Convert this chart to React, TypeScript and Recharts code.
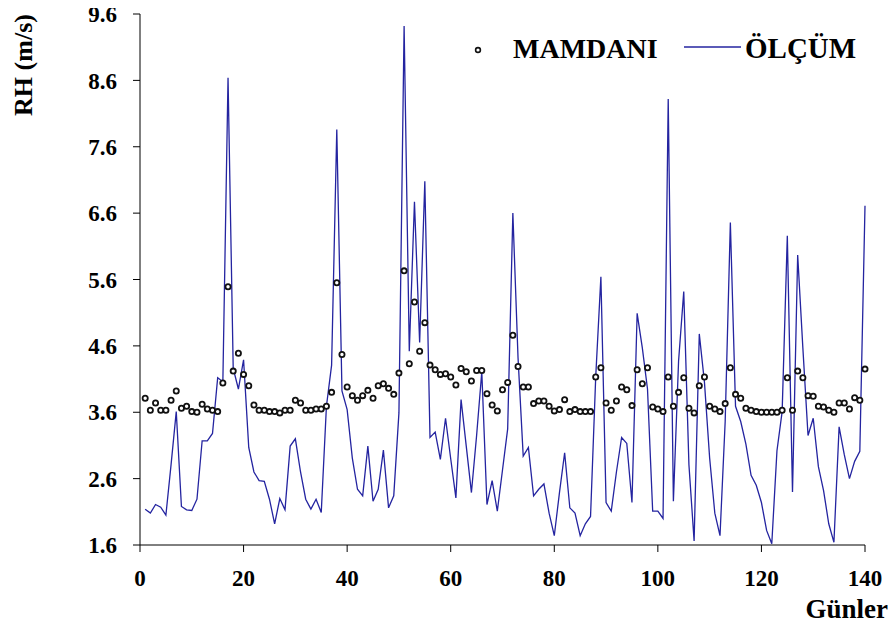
import { ComposedChart, Line, XAxis, YAxis, Legend } from "recharts";

// daily values, day 1 .. 140
const mamdani = [
  3.81, 3.63, 3.74, 3.63, 3.63, 3.78, 3.92, 3.66, 3.69, 3.61, 3.6, 3.72, 3.65, 3.63, 3.61, 4.04, 5.49, 4.22, 4.49, 4.17,
  4.0, 3.71, 3.63, 3.63, 3.61, 3.61, 3.59, 3.63, 3.63, 3.78, 3.74, 3.63, 3.63, 3.65, 3.65, 3.69, 3.9, 5.55, 4.47, 3.98,
  3.85, 3.78, 3.85, 3.93, 3.81, 4.0, 4.03, 3.96, 3.87, 4.19, 5.73, 4.33, 5.26, 4.52, 4.95, 4.31, 4.24, 4.17, 4.18, 4.13,
  4.01, 4.26, 4.21, 4.07, 4.23, 4.23, 3.88, 3.71, 3.62, 3.94, 4.05, 4.76, 4.29, 3.98, 3.98, 3.73, 3.77, 3.77, 3.69, 3.62,
  3.64, 3.79, 3.61, 3.64, 3.61, 3.61, 3.61, 4.13, 4.27, 3.74, 3.63, 3.77, 3.98, 3.94, 3.7, 4.24, 4.03, 4.27, 3.68, 3.65,
  3.61, 4.13, 3.69, 3.9, 4.12, 3.66, 3.59, 4.0, 4.13, 3.69, 3.65, 3.61, 3.73, 4.27, 3.87, 3.81, 3.66, 3.63, 3.61, 3.6,
  3.6, 3.6, 3.6, 3.63, 4.12, 3.63, 4.22, 4.12, 3.85, 3.84, 3.69, 3.68, 3.63, 3.6, 3.74, 3.74, 3.65, 3.82, 3.78, 4.25,
];

const olcum = [
  2.14, 2.08, 2.21, 2.17, 2.05, 2.81, 3.61, 2.18, 2.13, 2.12, 2.29, 3.17, 3.17, 3.28, 4.12, 4.06, 8.64, 4.26, 3.95, 4.39,
  3.07, 2.7, 2.57, 2.56, 2.29, 1.92, 2.3, 2.13, 3.09, 3.2, 2.7, 2.29, 2.14, 2.29, 2.09, 3.69, 4.31, 7.86, 3.92, 3.64,
  2.91, 2.44, 2.34, 3.09, 2.26, 2.44, 3.03, 2.16, 2.34, 3.59, 9.42, 4.52, 6.77, 4.65, 7.08, 3.22, 3.3, 2.89, 3.51, 2.9,
  2.31, 3.79, 3.09, 2.39, 3.25, 4.21, 2.21, 2.57, 2.11, 2.73, 3.35, 6.6, 4.42, 2.94, 3.07, 2.34, 2.44, 2.52, 2.08, 1.74,
  2.39, 2.99, 2.16, 2.08, 1.74, 1.92, 2.03, 4.13, 5.64, 2.24, 2.11, 2.7, 3.22, 3.13, 2.24, 5.09, 4.57, 3.95, 2.11, 2.11,
  2.0, 8.32, 2.26, 4.37, 5.42, 2.81, 1.66, 4.78, 4.05, 2.91, 2.08, 1.74, 3.46, 6.46, 3.69, 3.46, 3.12, 2.65, 2.5, 2.24,
  1.82, 1.62, 3.02, 3.61, 6.26, 2.4, 5.97, 4.57, 3.25, 3.51, 2.78, 2.42, 1.92, 1.64, 3.38, 2.96, 2.6, 2.86, 3.01, 6.71,
];

const xTicks = [0, 20, 40, 60, 80, 100, 120, 140];
const yTicks = [1.6, 2.6, 3.6, 4.6, 5.6, 6.6, 7.6, 8.6, 9.6];

const data = mamdani.map((m, i) => ({ gun: i + 1, mamdani: m, olcum: olcum[i] }));

const SERIF = '"Liberation Serif", "Times New Roman", serif';
const BLUE = "#2424a0";
const tickStyle = { fill: "#000", fontFamily: SERIF, fontWeight: 700, fontSize: 23 };

function LegendBox() {
  return (
    <svg width={420} height={50} style={{ display: "block" }}>
      <circle cx={18} cy={25} r={2.4} fill="#fff" stroke="#111" strokeWidth={1.6} />
      <text x={53} y={33} fontFamily={SERIF} fontWeight={700} fontSize={28} fill="#000">
        MAMDANI
      </text>
      <line x1={224} y1={22} x2={281} y2={22} stroke={BLUE} strokeWidth={1.4} />
      <text x={285} y={33} fontFamily={SERIF} fontWeight={700} fontSize={29} fill="#000">
        ÖLÇÜM
      </text>
    </svg>
  );
}

export default function App() {
  return (
    <>
      <style>{"svg.recharts-surface{overflow:visible}"}</style>
      <ComposedChart
        width={880}
        height={612}
        data={data}
        margin={{ top: 6, right: 23, left: 0, bottom: 45 }}
      >
        <XAxis
          dataKey="gun"
          type="number"
          domain={[0, 140]}
          ticks={xTicks}
          interval={0}
          tick={tickStyle}
          tickSize={7}
          tickMargin={18}
          axisLine={{ stroke: "#000" }}
          tickLine={{ stroke: "#000" }}
          label={() => (
            <text x={880} y={610} textAnchor="end" fontFamily={SERIF} fontWeight={700} fontSize={27} fill="#000">
              Günler
            </text>
          )}
        />
        <YAxis
          width={132}
          domain={[1.6, 9.6]}
          ticks={yTicks}
          interval={0}
          tickFormatter={(v: number) => v.toFixed(1)}
          tick={tickStyle}
          tickSize={7}
          tickMargin={16}
          axisLine={{ stroke: "#000" }}
          tickLine={{ stroke: "#000" }}
          label={() => (
            <text
              x={24}
              y={57}
              transform="rotate(-90 24 57)"
              textAnchor="middle"
              fontFamily={SERIF}
              fontWeight={700}
              fontSize={26}
              fill="#000"
            >
              RH (m/s)
            </text>
          )}
        />
        <Legend
          layout="vertical"
          align="center"
          verticalAlign="middle"
          wrapperStyle={{ left: 452, top: 17, width: 420, height: 50 }}
          content={() => <LegendBox />}
        />
        <Line
          dataKey="olcum"
          stroke={BLUE}
          strokeWidth={1.3}
          dot={false}
          activeDot={false}
          isAnimationActive={false}
        />
        <Line
          dataKey="mamdani"
          stroke="none"
          dot={{ r: 2.6, fill: "#fff", stroke: "#111", strokeWidth: 1.8 }}
          activeDot={false}
          isAnimationActive={false}
        />
      </ComposedChart>
    </>
  );
}
